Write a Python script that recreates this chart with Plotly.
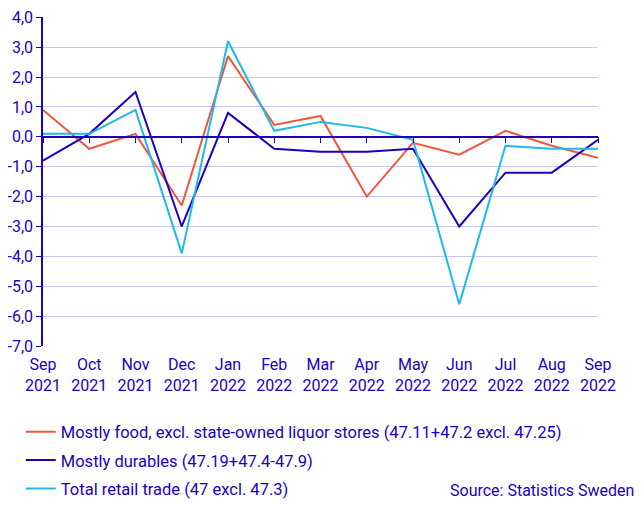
import plotly.graph_objects as go

months = ["Sep<br>2021", "Oct<br>2021", "Nov<br>2021", "Dec<br>2021", "Jan<br>2022", "Feb<br>2022",
          "Mar<br>2022", "Apr<br>2022", "May<br>2022", "Jun<br>2022", "Jul<br>2022", "Aug<br>2022",
          "Sep<br>2022"]

food = [0.9, -0.4, 0.1, -2.3, 2.7, 0.4, 0.7, -2.0, -0.2, -0.6, 0.2, -0.3, -0.7]
durables = [-0.8, 0.1, 1.5, -3.0, 0.8, -0.4, -0.5, -0.5, -0.4, -3.0, -1.2, -1.2, -0.1]
total = [0.1, 0.1, 0.9, -3.9, 3.2, 0.2, 0.5, 0.3, -0.1, -5.6, -0.3, -0.4, -0.4]

names = ["Mostly food, excl. state-owned liquor stores (47.11+47.2 excl. 47.25)",
         "Mostly durables (47.19+47.4-47.9)",
         "Total retail trade (47 excl. 47.3)"]
colors = ["#F0583C", "#1E00BE", "#1EB9EB"]

ytick_vals = [4, 3, 2, 1, 0, -1, -2, -3, -4, -5, -6, -7]
ytick_text = [f"{v:.1f}".replace(".", ",") for v in ytick_vals]

blue = "#1E00BE"
x = list(range(len(months)))

fig = go.Figure()
for i, (name, vals, col) in enumerate(zip(names, [food, durables, total], colors)):
    fig.add_trace(go.Scatter(x=x, y=vals, name=name, mode="lines", legendgroup=str(i),
                             line=dict(color=col, width=2)))

# empty trace on a second x axis, drawn at y=0 as the zero line with ticks
fig.add_trace(go.Scatter(x=x, y=[None] * len(x), xaxis="x2", showlegend=False,
                         hoverinfo="skip"))

# page body has an 8px margin, so the margins are shifted to compensate
fig.update_layout(
    width=644, height=505,
    margin=dict(l=35, r=54, t=9, b=167, autoexpand=False),
    plot_bgcolor="white", paper_bgcolor="white",
    font=dict(family="Roboto, Arial, sans-serif", size=16, color=blue),
    xaxis=dict(range=[0, 12], tickvals=x, ticktext=months, showgrid=False,
               zeroline=False, showline=False, ticks="outside", ticklen=4,
               tickcolor="rgba(0,0,0,0)", automargin=False),
    xaxis2=dict(range=[0, 12], overlaying="x", anchor="free", position=7 / 11,
                tickvals=x, showticklabels=False, ticks="outside", ticklen=6,
                tickcolor=blue, showline=True, linecolor=blue, linewidth=1.5,
                showgrid=False, zeroline=False),
    yaxis=dict(range=[-7, 4.01], tickvals=ytick_vals, ticktext=ytick_text,
               showgrid=True, gridcolor="#C8C8F0", gridwidth=1, zeroline=False,
               showline=True, linecolor=blue, linewidth=1.5, ticks="outside",
               ticklen=5, tickcolor=blue, automargin=False,
               ticklabeloverflow="allow"),
    legend=dict(x=-0.04, y=-0.208, xanchor="left", yanchor="top", orientation="v",
                font=dict(size=16.5, color=blue), tracegroupgap=4, itemwidth=30),
    annotations=[dict(text="Source: Statistics Sweden", xref="paper", yref="paper",
                      x=1.068, y=-0.44, xanchor="right", yanchor="middle",
                      showarrow=False, font=dict(size=16, color=blue))],
)

fig.write_html("out.html")
